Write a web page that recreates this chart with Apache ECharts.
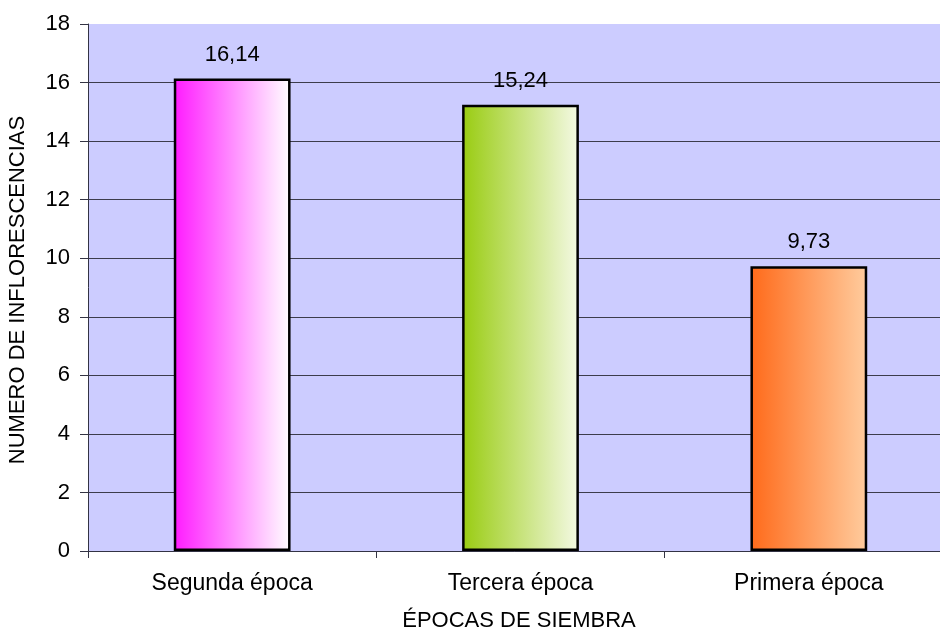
<!DOCTYPE html>
<html>
<head>
<meta charset="utf-8">
<script src="https://cdn.jsdelivr.net/npm/echarts@6/dist/echarts.min.js"></script>
<style>
  html, body { margin: 0; padding: 0; background: #ffffff; }
  #chart { width: 940px; height: 631px; }
</style>
</head>
<body>
<div id="chart"></div>
<script>
// Number of inflorescences per sowing period
const categories = ['Segunda época', 'Tercera época', 'Primera época'];
const values = [16.14, 15.24, 9.73];
const yTicks = [0, 2, 4, 6, 8, 10, 12, 14, 16, 18];

// Horizontal gradients for each bar: saturated on the left, pale on the right
const barGradients = [
  ['#ff1aff', '#ffffff'],
  ['#99cc11', '#f4f9e4'],
  ['#ff6a1a', '#ffcc9e']
];

const FONT = '"Liberation Sans", Arial, sans-serif';
const FS = 22;

const chart = echarts.init(document.getElementById('chart'), null, { renderer: 'canvas' });

// no grid line on the top edge
const gridColors = yTicks.map((t, i) => i === yTicks.length - 1 ? 'rgba(0,0,0,0)' : '#3c3c4c');

chart.setOption({
  animation: false,
  backgroundColor: '#ffffff',
  grid: {
    left: 88, top: 24, width: 865, height: 527,
    show: true, backgroundColor: '#ccccff', borderWidth: 0,
    containLabel: false,
    outerBoundsMode: 'none'
  },
  xAxis: {
    type: 'category',
    data: categories,
    axisLine: { show: true, lineStyle: { color: '#333344', width: 1 } },
    axisTick: { show: true, alignWithLabel: false, length: 7, lineStyle: { color: '#333344' } },
    axisLabel: { color: '#000', fontFamily: FONT, fontSize: 23, margin: 21 },
    splitLine: { show: false }
  },
  yAxis: {
    type: 'value',
    min: 0, max: 18, interval: 2,
    axisLine: { show: true, lineStyle: { color: '#333344', width: 1 } },
    axisTick: { show: true, length: 8, lineStyle: { color: '#333344' } },
    axisLabel: { color: '#000', fontFamily: FONT, fontSize: FS, margin: 18 },
    splitLine: { show: true, lineStyle: { color: gridColors, width: 1 } }
  },
  series: [{
    type: 'bar',
    barWidth: '40.5%',
    data: values.map((v, i) => ({
      value: v,
      itemStyle: {
        color: new echarts.graphic.LinearGradient(0, 0, 1, 0, [
          { offset: 0, color: barGradients[i][0] },
          { offset: 1, color: barGradients[i][1] }
        ]),
        borderColor: '#000000',
        borderWidth: 2.5
      }
    })),
    label: {
      show: true,
      position: 'top',
      distance: 13,
      color: '#000',
      fontFamily: FONT,
      fontSize: FS,
      formatter: p => p.value.toFixed(2).replace('.', ',')
    }
  }],
  graphic: [
    {
      type: 'text',
      x: 519, y: 621,
      style: {
        text: 'ÉPOCAS DE SIEMBRA', fill: '#000', font: FS + 'px ' + FONT,
        align: 'center', verticalAlign: 'middle'
      }
    },
    {
      type: 'text',
      x: 18, y: 290,
      rotation: Math.PI / 2,
      style: {
        text: 'NUMERO DE INFLORESCENCIAS',
        fill: '#000', font: FS + 'px ' + FONT,
        align: 'center', verticalAlign: 'middle'
      }
    }
  ]
});
</script>
</body>
</html>
